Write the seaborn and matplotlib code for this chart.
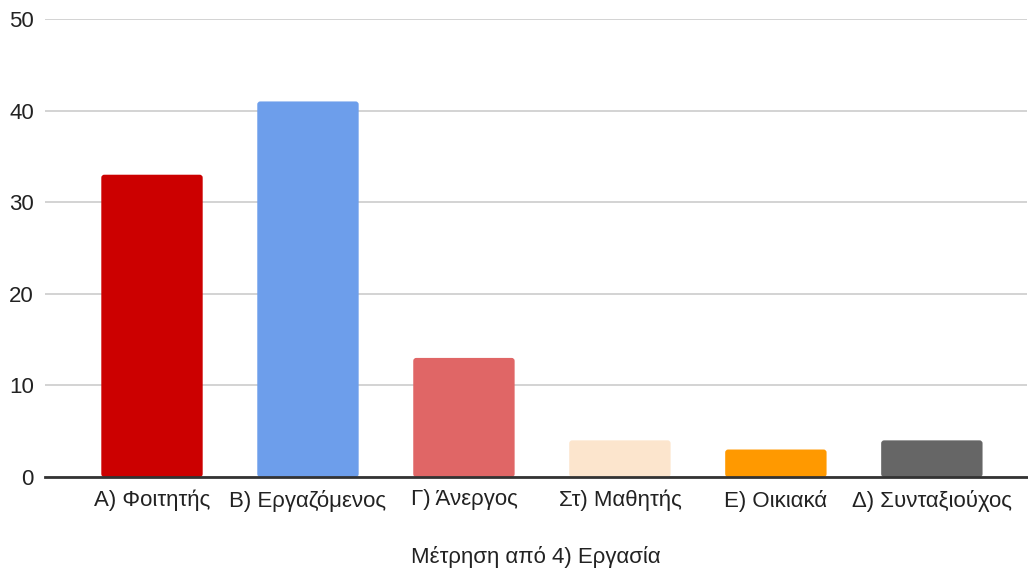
import matplotlib
matplotlib.use("Agg")
import matplotlib.pyplot as plt
from matplotlib.patches import FancyBboxPatch
import seaborn as sns
import pandas as pd

categories = ["Α) Φοιτητής", "Β) Εργαζόμενος", "Γ) Άνεργος",
              "Στ) Μαθητής", "Ε) Οικιακά", "Δ) Συνταξιούχος"]
counts = [33, 41, 13, 4, 3, 4]
colors = ["#cc0000", "#6d9eeb", "#e06666", "#fce5cd", "#ff9900", "#666666"]
y_ticks = [0, 10, 20, 30, 40, 50]
x_title = "Μέτρηση από 4) Εργασία"

sns.set_theme(style="white")
plt.rcParams["font.family"] = ["Liberation Sans", "DejaVu Sans"]

df = pd.DataFrame({"cat": categories, "n": counts})

fig = plt.figure(figsize=(10.28, 5.70), dpi=100)
ax = fig.add_axes([45 / 1028, 1 - 477 / 570, (1027 - 45) / 1028, (477 - 19) / 570])

sns.barplot(data=df, x="cat", y="n", hue="cat", palette=colors,
            legend=False, width=0.65, saturation=1, ax=ax)

ax.set_xlim(-0.686, 5.61)
ax.set_ylim(0, 50)

# px per data unit, for rounding the bar tops evenly
px_x = 156.0
px_y = (477 - 19) / 50.0
radius_px = 3.0
for p in list(ax.patches):
    x, y = p.get_x(), p.get_y()
    w, h = p.get_width(), p.get_height()
    fc = p.get_facecolor()
    p.remove()
    rb = FancyBboxPatch((x, y), w, h,
                        boxstyle=f"round,pad=0,rounding_size={radius_px / px_x}",
                        mutation_aspect=px_x / px_y,
                        facecolor=fc, edgecolor="none", zorder=2)
    ax.add_patch(rb)

ax.set_yticks(y_ticks)
ax.yaxis.grid(True, color="#cccccc", linewidth=1.2)
ax.set_axisbelow(True)
for s in ["top", "right", "left"]:
    ax.spines[s].set_visible(False)
ax.spines["bottom"].set_color("#333333")
ax.spines["bottom"].set_linewidth(2)
ax.spines["bottom"].set_zorder(3)

ax.tick_params(axis="both", length=0, labelsize=16, colors="#222222")
ax.tick_params(axis="y", pad=8)
ax.tick_params(axis="x", pad=9)
ax.set_ylabel("")
ax.set_xlabel(x_title, fontsize=16, color="#222222", labelpad=25)

fig.savefig("out.png", dpi=100)
